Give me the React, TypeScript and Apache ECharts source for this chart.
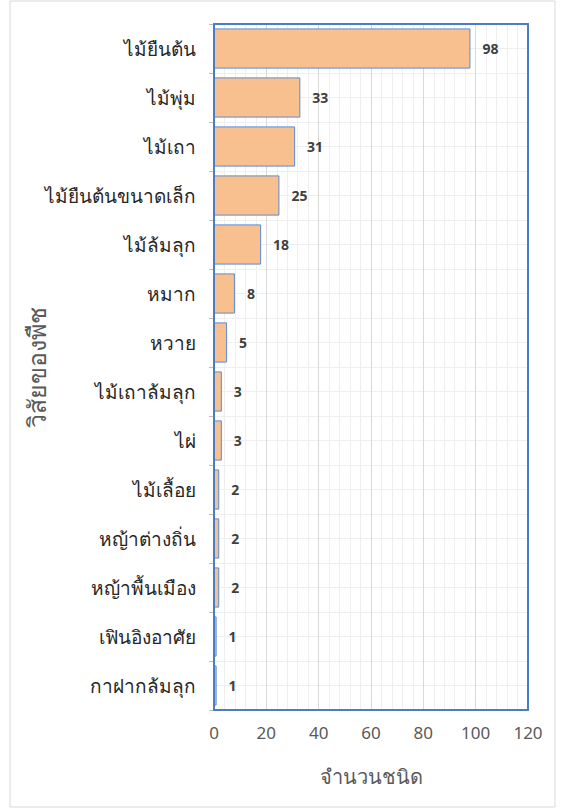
import React, { useEffect, useRef } from "react";
import * as echarts from "echarts";

const categories = [
  "ไม้ยืนต้น",
  "ไม้พุ่ม",
  "ไม้เถา",
  "ไม้ยืนต้นขนาดเล็ก",
  "ไม้ล้มลุก",
  "หมาก",
  "หวาย",
  "ไม้เถาล้มลุก",
  "ไผ่",
  "ไม้เลื้อย",
  "หญ้าต่างถิ่น",
  "หญ้าพื้นเมือง",
  "เฟินอิงอาศัย",
  "กาฝากล้มลุก",
];
const values = [98, 33, 31, 25, 18, 8, 5, 3, 3, 2, 2, 2, 1, 1];
const xTicks = [0, 20, 40, 60, 80, 100, 120];
const xName = "จำนวนชนิด";
const yName = "วิสัยของพืช";

const FONT = "'Noto Sans', 'DejaVu Sans', Tahoma, sans-serif";

export default function App() {
  const ref = useRef<HTMLDivElement>(null);
  useEffect(() => {
    document.body.style.margin = "0";
    const chart = echarts.init(ref.current!, null, { renderer: "svg" });
    chart.setOption({
      animation: false,
      backgroundColor: "#ffffff",
      textStyle: { fontFamily: FONT },
      graphic: [
        {
          type: "rect",
          shape: { x: 10, y: 1, width: 545, height: 806 },
          style: { fill: "none", stroke: "#d9d9d9", lineWidth: 1 },
          silent: true,
        },
        {
          type: "rect",
          shape: { x: 214, y: 24, width: 314, height: 686 },
          style: { fill: "none", stroke: "#4a7ec4", lineWidth: 2 },
          silent: true,
          z: 100,
        },
      ],
      grid: { left: 214, right: 38, top: 24, bottom: 100 },
      xAxis: {
        type: "value",
        min: xTicks[0],
        max: xTicks[xTicks.length - 1],
        interval: 20,
        name: xName,
        nameLocation: "middle",
        nameGap: 56,
        nameTextStyle: { fontSize: 20, color: "#595959", fontFamily: FONT },
        axisLine: { show: false },
        axisTick: { show: false },
        axisLabel: { fontSize: 17, color: "#595959", margin: 14, fontFamily: FONT },
        splitLine: { show: true, lineStyle: { color: "#d9d9d9", width: 1 } },
        minorTick: { show: false, splitNumber: 5 },
        minorSplitLine: { show: true, lineStyle: { color: "#efefef", width: 1 } },
      },
      yAxis: [
        {
          type: "category",
          data: categories,
          inverse: true,
          name: yName,
          nameLocation: "middle",
          nameGap: 166,
          nameRotate: 90,
          nameMoveOverlap: false,
          nameTextStyle: { fontSize: 25, color: "#595959", fontFamily: FONT },
          axisLine: { show: false },
          axisTick: { show: true, length: 5, lineStyle: { color: "#bfbfbf" } },
          axisLabel: { fontSize: 19, color: "#262626", margin: 18, fontFamily: FONT },
          splitLine: { show: false },
        },
        {
          type: "value",
          min: 0,
          max: 14,
          interval: 0.5,
          position: "left",
          show: true,
          axisLine: { show: false },
          axisTick: { show: false },
          axisLabel: { show: false },
          splitLine: { show: true, lineStyle: { color: "#efefef", width: 1 } },
        },
      ],
      series: [
        {
          type: "bar",
          yAxisIndex: 0,
          data: values,
          barCategoryGap: "18%",
          itemStyle: { color: "#f8c08e", borderColor: "#5b8bd0", borderWidth: 1 },
          label: {
            show: true,
            position: "right",
            distance: 12,
            fontSize: 14,
            fontWeight: "bold",
            color: "#404040",
            fontFamily: FONT,
          },
          z: 10,
        },
      ],
    });
    return () => chart.dispose();
  }, []);
  return <div ref={ref} style={{ width: 566, height: 810 }} />;
}
